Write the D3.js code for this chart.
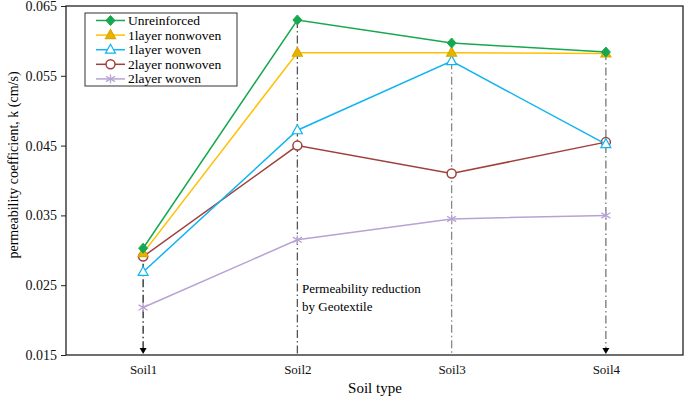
<!DOCTYPE html>
<html><head><meta charset="utf-8">
<script src="https://cdn.jsdelivr.net/npm/d3@7"></script>
<style>body{margin:0;background:#fff}svg{display:block}</style>
</head><body><svg id="c" width="685" height="400"></svg>
<script>
const categories = ["Soil1","Soil2","Soil3","Soil4"];
const seriesNames = ["Unreinforced","1layer nonwoven","1layer woven","2layer nonwoven","2layer woven"];
const unreinforced = [0.0303,0.0630,0.0597,0.0584];
const layer1Nonwoven = [0.0296,0.0583,0.0583,0.0582];
const layer1Woven = [0.0269,0.0472,0.0571,0.0452];
const layer2Nonwoven = [0.0291,0.0450,0.0410,0.0455];
const layer2Woven = [0.0218,0.0315,0.0345,0.0350];
const yTicks = [0.015,0.025,0.035,0.045,0.055,0.065];
const colors = ["#17a84f","#ffc000","#10b4f0","#a0403c","#b7a3d3"];
const markerFill = ["#17a84f","#e6b400","#fff","#fff","none"];
const markers = ["diamond","triangle","triangle","circle","asterisk"];
const allSeries = [unreinforced,layer1Nonwoven,layer1Woven,layer2Nonwoven,layer2Woven];

const FONT = "'Liberation Serif', 'Times New Roman', Times, serif";
const svg = d3.select("#c");
const L=66,R=683,T=6,B=355;
const x = d3.scalePoint().domain(categories).range([L,R]).padding(0.5);
const y = d3.scaleLinear().domain([0.015,0.065]).range([B,T]);

// vertical dash-dot guides
const guideColors=["#222","#555","#888","#777"];
categories.forEach((c,i)=>{
  const top = d3.max(allSeries, s=>s[i]);
  const topV = i===2 ? layer1Woven[i] : top;
  svg.append("line").attr("x1",x(c)).attr("x2",x(c)).attr("y1",y(topV)).attr("y2",B-(i===0||i===3?3:0))
    .attr("stroke",guideColors[i]).attr("stroke-width",1.3).attr("stroke-dasharray","8,3,1.5,3");
  if(i===0||i===3){
    svg.append("path").attr("d",`M${x(c)-3.5},${B-7}L${x(c)+3.5},${B-7}L${x(c)},${B-1}Z`).attr("fill","#000");
  }
});

// frame
svg.append("rect").attr("x",L).attr("y",T).attr("width",R-L).attr("height",B-T).attr("fill","none").attr("stroke","#222").attr("stroke-width",1.3);

// y axis
const ya = svg.append("g").attr("transform",`translate(${L},0)`).call(d3.axisLeft(y).tickValues(yTicks).tickFormat(d3.format(".3f")).tickSize(5).tickSizeOuter(0));
ya.select(".domain").remove();
ya.selectAll("line").attr("stroke","#222");
ya.selectAll("text").attr("font-size",14).attr("fill","#111").style("font-family",FONT).attr("dx","-1");

// x axis
const xa = svg.append("g").attr("transform",`translate(0,${B})`).call(d3.axisBottom(x).tickSize(0).tickPadding(10));
xa.select(".domain").remove();
xa.selectAll("text").attr("font-size",13).attr("fill","#111").style("font-family",FONT);

// titles
svg.append("text").attr("x",375).attr("y",393).attr("text-anchor","middle").attr("font-size",15).style("font-family",FONT).text("Soil type");
svg.append("text").attr("transform","translate(18,165) rotate(-90)").attr("text-anchor","middle").attr("font-size",14).style("font-family",FONT).text("permeability coefficient, k (cm/s)");

// annotation
svg.append("text").attr("x",302).attr("y",293).attr("font-size",13).style("font-family",FONT).text("Permeability reduction");
svg.append("text").attr("x",302).attr("y",311).attr("font-size",13).style("font-family",FONT).text("by Geotextile");

function drawMarker(g,type,cx,cy,col,fill){
  if(type==="diamond"){
    g.append("path").attr("d",`M${cx},${cy-5}L${cx+4.5},${cy}L${cx},${cy+5}L${cx-4.5},${cy}Z`).attr("fill",fill).attr("stroke",col).attr("stroke-width",1);
  } else if(type==="triangle"){
    g.append("path").attr("d",`M${cx},${cy-5.5}L${cx+5},${cy+3.5}L${cx-5},${cy+3.5}Z`).attr("fill",fill).attr("stroke",col).attr("stroke-width",1.2);
  } else if(type==="circle"){
    g.append("circle").attr("cx",cx).attr("cy",cy).attr("r",4.5).attr("fill",fill).attr("stroke",col).attr("stroke-width",1.5);
  } else {
    const r=4.5;
    [[0,-r,0,r],[-r,-r*0.6,r,r*0.6],[-r,r*0.6,r,-r*0.6]].forEach(s=>
      g.append("line").attr("x1",cx+s[0]).attr("y1",cy+s[1]).attr("x2",cx+s[2]).attr("y2",cy+s[3]).attr("stroke",col).attr("stroke-width",1.3));
  }
}

const line = d3.line().x((d,i)=>x(categories[i])).y(d=>y(d));
const order=[4,3,2,1,0];
order.forEach(si=>{
  const g=svg.append("g");
  g.append("path").datum(allSeries[si]).attr("d",line).attr("fill","none").attr("stroke",colors[si]).attr("stroke-width",1.5);
  allSeries[si].forEach((v,i)=>drawMarker(g,markers[si],x(categories[i]),y(v),si===1?"#d9a800":colors[si],markerFill[si]));
});

// legend
const lg=svg.append("g");
lg.append("rect").attr("x",85).attr("y",13).attr("width",152).attr("height",73).attr("fill","#fff").attr("stroke","#333").attr("stroke-width",1);
seriesNames.forEach((n,i)=>{
  const yy=20.5+i*14.6;
  lg.append("line").attr("x1",96).attr("x2",125).attr("y1",yy).attr("y2",yy).attr("stroke",colors[i]).attr("stroke-width",1.5);
  drawMarker(lg,markers[i],110.5,yy,i===1?"#d9a800":colors[i],markerFill[i]);
  lg.append("text").attr("x",128).attr("y",yy+4.5).attr("font-size",13.5).style("font-family",FONT).text(n);
});
</script></body></html>
